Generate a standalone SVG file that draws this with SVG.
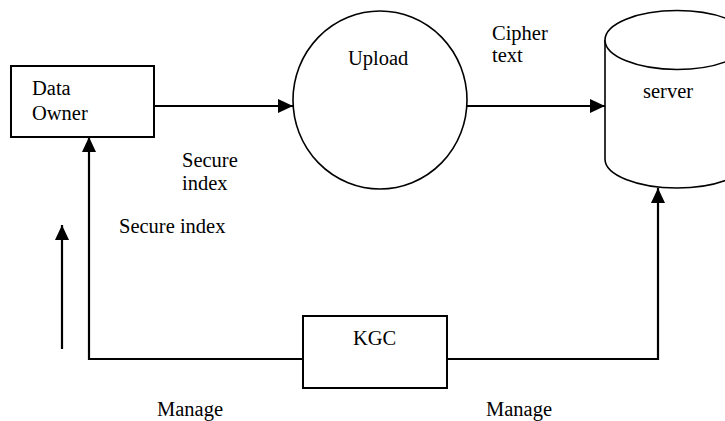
<svg xmlns="http://www.w3.org/2000/svg" width="725" height="421" viewBox="0 0 725 421">
<style>
  .shape { fill: #ffffff; stroke: #000000; stroke-width: 2; }
  .thin { fill: #ffffff; stroke: #000000; stroke-width: 1.6; }
  .conn { fill: none; stroke: #000000; stroke-width: 2.2; }
  text { font-family: "Liberation Serif", "Times New Roman", serif; font-size: 20.5px; fill: #000000; }
</style>
<defs>
  <marker id="arrow" markerUnits="userSpaceOnUse" markerWidth="16" markerHeight="14" refX="15" refY="7" orient="auto">
    <path d="M0,0 L15,7 L0,14 z" fill="#000000"/>
  </marker>
</defs>
<rect width="725" height="421" fill="#ffffff"/>

<g id="connectors">
  <line class="conn" x1="154" y1="106" x2="293" y2="106" marker-end="url(#arrow)"/>
  <line class="conn" x1="466" y1="106" x2="605" y2="106" marker-end="url(#arrow)"/>
  <polyline class="conn" points="303,359 89,359 89,137" marker-end="url(#arrow)"/>
  <polyline class="conn" points="447,359 658,359 658,188" marker-end="url(#arrow)"/>
  <line class="conn" x1="62" y1="349" x2="62" y2="225" marker-end="url(#arrow)"/>
</g>

<g id="data-owner">
  <rect class="shape" x="11" y="66" width="143" height="71"/>
  <text x="32" y="95">Data</text>
  <text x="32" y="120">Owner</text>
</g>

<g id="upload">
  <ellipse class="thin" cx="380" cy="100" rx="87" ry="89"/>
  <text x="348" y="65">Upload</text>
</g>

<g id="server">
  <path class="thin" d="M605,40 L605,159 A72,29 0 0 0 749,159 L749,40"/>
  <ellipse class="thin" cx="677" cy="40" rx="72" ry="29.5"/>
  <text x="643" y="98">server</text>
</g>

<g id="kgc">
  <rect class="shape" x="303" y="316" width="144" height="72"/>
  <text x="353" y="345">KGC</text>
</g>

<g id="labels">
  <text x="492" y="40">Cipher</text>
  <text x="492" y="62">text</text>
  <text x="182" y="167">Secure</text>
  <text x="182" y="190">index</text>
  <text x="119" y="233">Secure index</text>
  <text x="157" y="416">Manage</text>
  <text x="486" y="416">Manage</text>
</g>
</svg>
